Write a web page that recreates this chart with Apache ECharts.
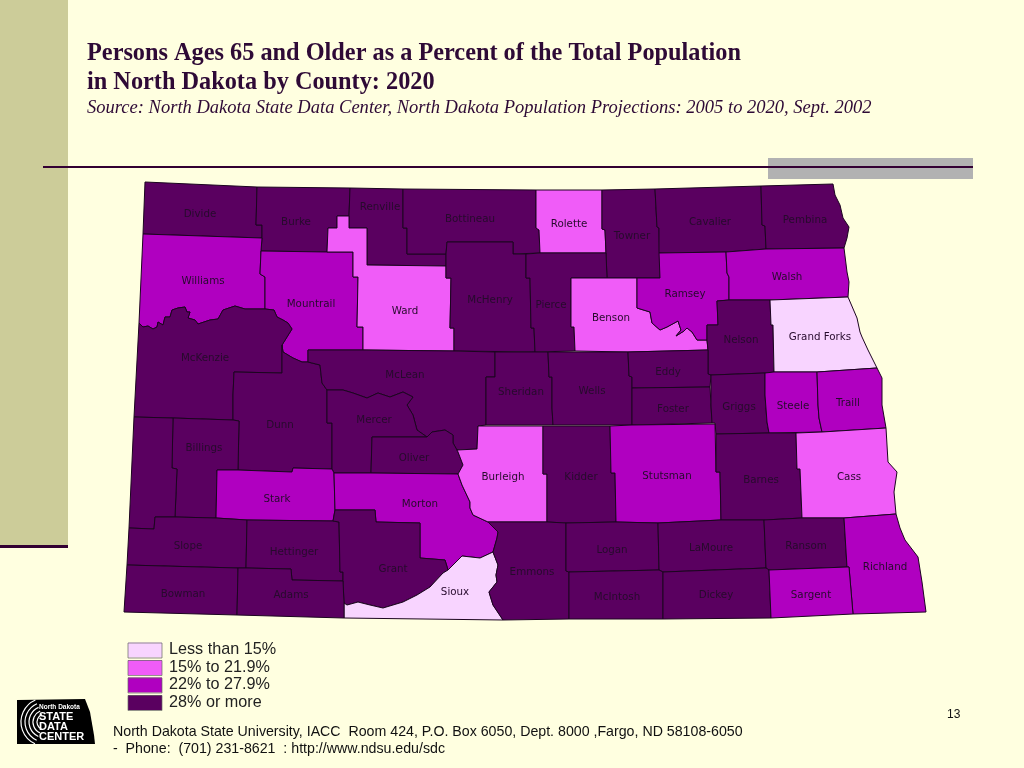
<!DOCTYPE html>
<html>
<head>
<meta charset="utf-8">
<title>Persons Ages 65 and Older in North Dakota by County: 2020</title>
<style>
    html, body { margin: 0; padding: 0; background: #ffffe0; }
    #chart { width: 1024px; height: 768px; }
</style>
<script src="https://cdn.jsdelivr.net/npm/echarts@6/dist/echarts.min.js"></script>
</head>
<body>
<div id="chart"></div>
<script>
// legend classes, lowest to highest
const classLabels = ['Less than 15%', '15% to 21.9%', '22% to 27.9%', '28% or more'];
const classColors = ['#f8d4ff', '#f05cf8', '#b000c0', '#5a0060'];

// counties in each class
const lessThan15 = ['Grand Forks', 'Sioux'];
const from15To219 = ['Rolette', 'Ward', 'Benson', 'Burleigh', 'Cass'];
const from22To279 = ['Williams', 'Mountrail', 'Ramsey', 'Walsh', 'Steele', 'Traill', 'Stutsman',
    'Stark', 'Morton', 'Richland', 'Sargent'];
const over28 = ['Divide', 'Burke', 'Renville', 'Bottineau', 'Towner', 'Cavalier', 'Pembina', 'McHenry',
    'Pierce', 'Nelson', 'McKenzie', 'McLean', 'Sheridan', 'Wells', 'Eddy', 'Foster', 'Griggs', 'Dunn',
    'Mercer', 'Billings', 'Oliver', 'Kidder', 'Barnes', 'Golden Valley', 'Slope', 'Hettinger', 'Grant',
    'Logan', 'LaMoure', 'Ransom', 'Emmons', 'Bowman', 'Adams', 'McIntosh', 'Dickey'];
const classMembers = [lessThan15, from15To219, from22To279, over28];

// the reference prints no name on this one
const unlabeled = ['Golden Valley'];

// missouri river between williams and mckenzie, west to east
const upperRiver = [[139,323],[143,327],[148,326],[153,329],[157,327],[158,322],[163,325],[165,317],[170,317],[172,310],[178,308],[185,307],[187,312],[190,312],[188,318],[195,320],[198,324],[210,320],[218,319],[223,310],[235,306],[245,309],[265,309]];

// map geometry for registerMap: county -> [label anchor, outline]
const counties = {
    'Divide': [[200, 214], [[145,182],[257,187],[256,225],[262,225],[262,238],[143,234]]],
    'Burke': [[296, 222], [[257,187],[350,188],[349,216],[337,216],[337,228],[328,228],[327,252],[261,251],[262,238],[262,225],[256,225]]],
    'Renville': [[380, 207], [[350,188],[403,189],[403,228],[407,228],[407,254],[446,254],[446,266],[367,265],[367,228],[349,228],[349,216]]],
    'Bottineau': [[470, 219], [[403,189],[536,190],[536,228],[539,230],[540,253],[513,254],[513,242],[447,242],[446,254],[407,254],[407,228],[403,228]]],
    'Rolette': [[569, 224], [[536,190],[602,190],[602,229],[605,230],[606,253],[540,253],[539,230],[536,228]]],
    'Towner': [[632, 236], [[602,190],[655,189],[657,227],[659,228],[660,278],[607,278],[606,253],[605,230],[602,229]]],
    'Cavalier': [[710, 222], [[655,189],[761,186],[762,225],[765,226],[766,249],[726,252],[659,253],[659,228],[657,227]]],
    'Pembina': [[805, 220], [[761,186],[833,184],[835,195],[840,205],[843,218],[849,227],[847,238],[844,248],[766,249],[765,226],[762,225]]],
    'Williams': [[203, 281], [[143,234],[262,238],[261,251],[260,274],[265,277],[265,309],...upperRiver.slice().reverse().slice(1)]],
    'Mountrail': [[311, 304], [[261,251],[327,252],[353,252],[353,277],[358,277],[357,327],[363,327],[363,350],[308,350],[308,362],[302,362],[293,358],[283,352],[282,345],[287,337],[292,329],[288,323],[283,320],[277,317],[274,310],[265,309],[265,277],[260,274]]],
    'Ward': [[405, 311], [[337,216],[349,216],[349,228],[367,228],[367,265],[446,266],[446,278],[451,278],[450,328],[454,328],[454,351],[363,350],[363,327],[357,327],[358,277],[353,277],[353,252],[327,252],[328,228],[337,228]]],
    'McHenry': [[490, 300], [[447,242],[513,242],[513,254],[526,254],[526,278],[530,278],[531,328],[534,328],[535,352],[454,351],[454,328],[450,328],[451,278],[446,278],[446,266],[446,254]]],
    'Pierce': [[551, 305], [[526,254],[540,253],[606,253],[607,278],[571,278],[571,327],[574,327],[575,351],[535,352],[534,328],[531,328],[530,278],[526,278]]],
    'Benson': [[611, 318], [[571,278],[607,278],[637,278],[637,308],[650,312],[652,323],[660,330],[667,327],[678,321],[681,330],[676,336],[684,331],[687,328],[692,332],[697,340],[707,340],[708,350],[628,352],[575,351],[574,327],[571,327]]],
    'Ramsey': [[685, 294], [[659,253],[726,252],[727,273],[729,277],[729,300],[717,301],[718,325],[707,325],[707,340],[697,340],[692,332],[687,328],[684,331],[676,336],[681,330],[678,321],[667,327],[660,330],[652,323],[650,312],[637,308],[637,278],[660,278]]],
    'Walsh': [[787, 277], [[726,252],[766,249],[844,248],[847,272],[849,282],[848,297],[770,300],[729,300],[729,277],[727,273]]],
    'Nelson': [[741, 340], [[717,301],[729,300],[770,300],[771,325],[773,325],[774,372],[765,373],[711,375],[708,374],[708,350],[707,340],[707,325],[718,325]]],
    'Grand Forks': [[820, 337], [[770,300],[848,297],[857,318],[860,332],[862,337],[868,350],[877,368],[817,372],[774,372],[773,325],[771,325]]],
    'McKenzie': [[205, 358], [...upperRiver,[274,310],[277,317],[283,320],[288,323],[292,329],[287,337],[282,345],[282,373],[234,372],[233,395],[233,420],[173,418],[134,417]]],
    'Dunn': [[280, 425], [[234,372],[282,373],[282,345],[283,352],[293,358],[302,362],[308,362],[320,365],[322,383],[327,390],[327,423],[332,423],[332,469],[293,468],[292,472],[238,470],[239,421],[233,420],[233,395]]],
    'McLean': [[405, 375], [[308,350],[363,350],[454,351],[495,352],[495,377],[486,377],[486,425],[478,426],[477,449],[457,450],[453,443],[453,435],[445,430],[432,432],[427,437],[417,430],[413,415],[407,405],[413,397],[403,392],[390,397],[378,393],[367,398],[353,393],[343,390],[327,390],[322,383],[320,365],[308,362]]],
    'Mercer': [[374, 420], [[327,390],[343,390],[353,393],[367,398],[378,393],[390,397],[403,392],[413,397],[407,405],[413,415],[417,430],[427,437],[372,437],[371,473],[334,473],[332,469],[332,423],[327,423]]],
    'Oliver': [[414, 458], [[372,437],[427,437],[432,432],[445,430],[453,435],[453,443],[457,450],[458,452],[463,465],[458,474],[371,473]]],
    'Sheridan': [[521, 392], [[495,352],[548,352],[549,377],[552,377],[552,408],[553,425],[486,425],[486,377],[495,377]]],
    'Wells': [[592, 391], [[548,352],[628,352],[629,376],[632,377],[632,425],[553,425],[552,408],[552,377],[549,377]]],
    'Eddy': [[668, 372], [[628,352],[708,350],[708,374],[711,375],[710,387],[632,388],[632,377],[629,376]]],
    'Foster': [[673, 409], [[632,388],[710,387],[711,405],[712,423],[632,425]]],
    'Griggs': [[739, 407], [[711,375],[765,373],[765,395],[767,422],[769,433],[716,434],[715,423],[712,423],[711,405]]],
    'Steele': [[793, 406], [[765,373],[774,372],[817,372],[818,405],[819,418],[822,432],[769,433],[767,422],[765,395]]],
    'Traill': [[848, 403], [[817,372],[877,368],[882,378],[882,405],[886,428],[822,432],[819,418],[818,405]]],
    'Billings': [[204, 448], [[173,418],[233,420],[239,421],[238,470],[217,470],[216,518],[175,517],[177,469],[172,468]]],
    'Golden Valley': [[153, 470], [[134,417],[173,418],[172,468],[177,469],[175,517],[155,517],[154,529],[129,528]]],
    'Stark': [[277, 499], [[217,470],[238,470],[292,472],[293,468],[332,469],[334,473],[335,510],[333,521],[247,520],[216,518]]],
    'Morton': [[420, 504], [[334,473],[371,473],[458,474],[462,485],[470,502],[470,508],[473,515],[488,522],[498,532],[497,538],[493,552],[480,558],[462,556],[448,570],[445,560],[420,558],[420,523],[376,522],[375,510],[335,510]]],
    'Burleigh': [[503, 477], [[478,426],[543,426],[543,474],[547,474],[547,522],[488,522],[473,515],[470,508],[470,502],[462,485],[458,474],[463,465],[458,452],[457,450],[477,449]]],
    'Kidder': [[581, 477], [[543,426],[610,426],[611,473],[615,473],[616,522],[566,523],[547,522],[547,474],[543,474]]],
    'Stutsman': [[667, 476], [[610,426],[632,425],[715,424],[716,472],[720,472],[721,520],[658,523],[616,522],[615,473],[611,473]]],
    'Barnes': [[761, 480], [[716,434],[769,433],[796,433],[797,469],[800,469],[802,518],[764,520],[721,520],[720,472],[716,472]]],
    'Cass': [[849, 477], [[796,433],[822,432],[886,428],[887,445],[888,462],[897,472],[894,492],[896,514],[844,518],[802,518],[800,469],[797,469]]],
    'Slope': [[188, 546], [[129,528],[154,529],[155,517],[175,517],[216,518],[247,520],[246,568],[238,568],[127,565]]],
    'Hettinger': [[294, 552], [[247,520],[333,521],[339,522],[340,572],[343,572],[343,581],[292,580],[291,569],[246,568]]],
    'Grant': [[393, 569], [[335,510],[375,510],[376,522],[420,523],[420,558],[445,560],[448,570],[443,573],[430,587],[417,595],[403,602],[383,608],[370,605],[358,602],[347,605],[344,603],[343,581],[343,572],[340,572],[339,522],[333,521]]],
    'Sioux': [[455, 592], [[344,603],[347,605],[358,602],[370,605],[383,608],[403,602],[417,595],[430,587],[443,573],[448,570],[462,556],[480,558],[493,552],[498,565],[496,575],[497,582],[489,592],[493,605],[503,620],[344,618]]],
    'Emmons': [[532, 572], [[488,522],[547,522],[566,523],[566,571],[569,572],[569,619],[503,620],[493,605],[489,592],[497,582],[496,575],[498,565],[493,552],[497,538],[498,532]]],
    'Logan': [[612, 550], [[566,523],[616,522],[658,523],[659,570],[569,572],[566,571]]],
    'LaMoure': [[711, 548], [[658,523],[721,520],[764,520],[766,568],[663,572],[659,570]]],
    'Ransom': [[806, 546], [[764,520],[802,518],[844,518],[847,567],[769,570],[766,568]]],
    'Richland': [[885, 567], [[844,518],[896,514],[900,528],[905,540],[918,557],[922,582],[926,612],[853,614],[849,567],[847,567]]],
    'Bowman': [[183, 594], [[127,565],[238,568],[237,615],[124,612]]],
    'Adams': [[291, 595], [[238,568],[246,568],[291,569],[292,580],[343,581],[344,603],[344,618],[237,615]]],
    'McIntosh': [[617, 597], [[569,572],[659,570],[663,572],[663,619],[569,619]]],
    'Dickey': [[716, 595], [[663,572],[766,568],[769,570],[771,618],[663,619]]],
    'Sargent': [[811, 595], [[769,570],[847,567],[849,567],[853,614],[771,618]]]
};

function buildGeoJson(){
    const features = Object.keys(counties).map((name)=>{
        const outline = counties[name][1];
        return {
            type: 'Feature',
            properties: {name: name, cp: counties[name][0]},
            geometry: {type: 'Polygon', coordinates: [outline.concat([outline[0]])]}
        };
    });
    return {type: 'FeatureCollection', features: features};
}

function buildSeriesData(){
    const rows = [];
    classMembers.forEach((names, classIndex)=>{
        names.forEach((name)=>{
            rows.push({name: name, value: classIndex});
        });
    });
    return rows;
}

const allPoints = Object.values(counties).flatMap((c)=>c[1]);
const minX = Math.min(...allPoints.map((p)=>p[0]));
const maxX = Math.max(...allPoints.map((p)=>p[0]));
const minY = Math.min(...allPoints.map((p)=>p[1]));
const maxY = Math.max(...allPoints.map((p)=>p[1]));

echarts.registerMap('northDakota', buildGeoJson());

const myChart = echarts.init(document.getElementById('chart'), null, {renderer: 'canvas'});

const dark = '#2e0a36';
const titleFont = {fontFamily: '"Liberation Serif"', fontWeight: 'bold', fontSize: 24.3, color: dark};
const footerFont = {fontFamily: '"Liberation Sans"', fontWeight: 'normal', fontSize: 14.2, color: '#111'};

const logoArcs = [8, 12, 16, 20, 24].map((r)=>({
    type: 'arc',
    silent: true,
    shape: {cx: 45, cy: 722, r: r, startAngle: 2.0, endAngle: 4.3},
    style: {stroke: '#fff', lineWidth: 1.2, fill: null}
}));

const legendFrames = classLabels.map((label, i)=>({
    type: 'rect',
    silent: true,
    z: 10,
    shape: {x: 128, y: 643 + i * 17.5, width: 34, height: 15},
    style: {fill: null, stroke: '#666', lineWidth: 0.7}
}));

const option = {
    backgroundColor: '#ffffe0',
    animation: false,
    title: [
        {text: 'Persons Ages 65 and Older as a Percent of the Total Population', left: 87, top: 42, padding: 0, textStyle: titleFont},
        {text: 'in North Dakota by County: 2020', left: 87, top: 71, padding: 0, textStyle: titleFont},
        {text: 'Source: North Dakota State Data Center, North Dakota Population Projections: 2005 to 2020, Sept. 2002',
            left: 87, top: 99, padding: 0,
            textStyle: {fontFamily: '"Liberation Serif"', fontStyle: 'italic', fontWeight: 'normal', fontSize: 18.55, color: dark}},
        {text: 'North Dakota State University, IACC  Room 424, P.O. Box 6050, Dept. 8000 ,Fargo, ND 58108-6050',
            left: 113, top: 725, padding: 0, textStyle: footerFont},
        {text: '-  Phone:  (701) 231-8621  : http://www.ndsu.edu/sdc',
            left: 113, top: 742, padding: 0, textStyle: footerFont},
        {text: '13', left: 947, top: 709, padding: 0,
            textStyle: {fontFamily: '"Liberation Sans"', fontWeight: 'normal', fontSize: 12, color: '#111'}}
    ],
    visualMap: {
        type: 'piecewise',
        seriesIndex: 0,
        left: 128,
        top: 642,
        padding: 0,
        orient: 'vertical',
        inverse: true,
        selectedMode: false,
        hoverLink: false,
        itemWidth: 34,
        itemHeight: 15,
        itemGap: 1.5,
        itemSymbol: 'rect',
        textGap: 7,
        textStyle: {fontFamily: '"Liberation Sans"', fontSize: 16.2, color: '#222'},
        pieces: classLabels.map((label, i)=>({value: i, label: label, color: classColors[i]}))
    },
    series: [{
        type: 'map',
        map: 'northDakota',
        projection: {
            project: (p)=>p,
            unproject: (p)=>p
        },
        left: minX,
        top: minY,
        width: maxX - minX,
        height: maxY - minY,
        roam: false,
        silent: true,
        selectedMode: false,
        label: {
            show: true,
            fontFamily: '"DejaVu Sans"',
            fontSize: 10.3,
            color: '#260a2c',
            formatter: (params)=>unlabeled.includes(params.name) ? '' : params.name
        },
        itemStyle: {borderColor: '#1c0420', borderWidth: 1},
        emphasis: {disabled: true},
        data: buildSeriesData()
    }],
    graphic: [
        {type: 'rect', silent: true, z: -2, shape: {x: 0, y: 0, width: 68, height: 546}, style: {fill: '#cccc99'}},
        {type: 'rect', silent: true, z: -1, shape: {x: 0, y: 545, width: 68, height: 3}, style: {fill: '#330033'}},
        {type: 'rect', silent: true, z: -2, shape: {x: 768, y: 158, width: 205, height: 21}, style: {fill: '#b2b2b2'}},
        {type: 'rect', silent: true, z: -1, shape: {x: 43, y: 166, width: 930, height: 2}, style: {fill: '#330033'}},
        ...legendFrames,
        // state data center logo
        {type: 'polygon', silent: true, shape: {points: [[17,700],[85,699],[90,712],[94,735],[95,744],[17,744]]}, style: {fill: '#000'}},
        ...logoArcs,
        {type: 'text', silent: true, style: {x: 39, y: 704, text: 'North Dakota', fill: '#fff', font: 'bold 6.5px "Liberation Sans"'}},
        {type: 'text', silent: true, style: {x: 39, y: 711, text: 'STATE', fill: '#fff', font: 'bold 11px "Liberation Sans"'}},
        {type: 'text', silent: true, style: {x: 39, y: 721, text: 'DATA', fill: '#fff', font: 'bold 11px "Liberation Sans"'}},
        {type: 'text', silent: true, style: {x: 39, y: 731, text: 'CENTER', fill: '#fff', font: 'bold 11px "Liberation Sans"'}}
    ]
};

myChart.setOption(option);
</script>
</body>
</html>
